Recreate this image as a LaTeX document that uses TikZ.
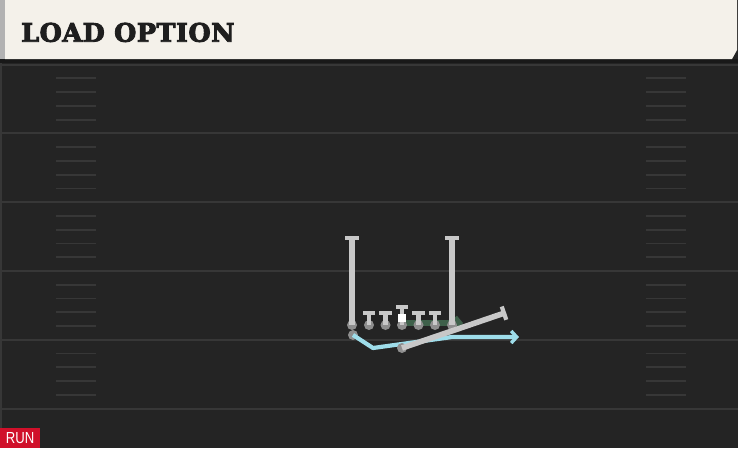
\documentclass[tikz,border=0pt]{standalone}
\usepackage{fontspec}
\usepackage{graphicx}
\usetikzlibrary{arrows.meta}
\newfontfamily\titlefont{DejaVu Serif Bold}[FakeBold=3.5,LetterSpace=2]
\newfontfamily\tagfont{Liberation Sans}
\definecolor{turf}{HTML}{242424}
\definecolor{turfline}{HTML}{373737}
\definecolor{cream}{HTML}{F4F1EA}
\definecolor{inkdark}{HTML}{1E1E1E}
\definecolor{playergray}{HTML}{8E8E8E}
\definecolor{routegray}{HTML}{C8C8C8}
\definecolor{pullgreen}{HTML}{3E604A}
\definecolor{runcyan}{HTML}{9EDDEA}
\definecolor{runred}{HTML}{D0102A}
\tikzstyle{player}=[circle,fill=playergray,minimum size=10pt,
    inner sep=0pt,outer sep=0pt]
\tikzstyle{ball}=[fill=white,minimum size=8pt,inner sep=0pt]
\tikzstyle{route}=[line width=5.4pt,draw=routegray,
    -{Bar[width=14pt,line width=4.2pt]}]
\tikzstyle{stem}=[line width=4.6pt,draw=routegray,
    -{Bar[width=12.5pt,line width=4pt]}]
\tikzstyle{pull}=[line width=6pt,draw=pullgreen,line cap=round,
    -{Straight Barb[length=5pt,width=12pt,line width=4pt]}]
\tikzstyle{track}=[line width=4.2pt,draw=runcyan,line join=round,
    -{Straight Barb[length=5.5pt,width=12pt,line width=3.4pt]}]
\tikzstyle{yardline}=[line width=2pt,draw=turfline]
\tikzstyle{hash}=[line width=1.8pt,draw=turfline]
\newcommand{\lineman}[3][310.7]{
    \node[player] at (#2,325) (#3) {};
    \coordinate (#3-top) at (#2,#1);
    \draw[stem] (#3.center) -- (#3-top);
}

\begin{document}
\begin{tikzpicture}[x=1pt,y=-1pt]
    \useasboundingbox (0,0) rectangle (738,448);
    \fill[turf] (0,0) rectangle (738,448);
    \fill[turfline] (0,59) rectangle (2,448);
    %
    \foreach \k in {0,...,5}{
        \draw[yardline] (2,64.5+68.8*\k) -- (738,64.5+68.8*\k);
    }
    \foreach \k in {0,...,4}{
        \foreach \j in {1,...,4}{
            \draw[hash] (56,64.5+68.8*\k+13.8*\j) -- (96,64.5+68.8*\k+13.8*\j);
            \draw[hash] (646,64.5+68.8*\k+13.8*\j) -- (686,64.5+68.8*\k+13.8*\j);
        }
    }
    %
    \fill[black!90] (0,59) rectangle (738,63);
    \fill[cream] (5,0) -- (737,0) -- (737,50) -- (732,59) -- (5,59) -- cycle;
    \fill[black!30] (0,0) rectangle (5,59);
    \node[anchor=base west,inner sep=0pt,text=inkdark,
        font=\titlefont\fontsize{25.5}{25.5}\selectfont] (title)
        at (21,41.7) {LOAD OPTION};
    %
    \coordinate (pullend) at (463,323);
    \draw[pull] (402,323) -- (pullend);
    %
    \node[player] at (352,325) (LWR) {};
    \node[player] at (452,325) (RWR) {};
    \coordinate (LWR-top) at (352,236);
    \coordinate (RWR-top) at (452,236);
    \draw[route] (LWR.center) -- (LWR-top);
    \draw[route] (RWR.center) -- (RWR-top);
    %
    \lineman{369}{LT}
    \lineman{385.5}{LG}
    \lineman[305]{402}{C}
    \lineman{418.5}{RG}
    \lineman{435}{RT}
    \node[ball] at (402,318) (snap) {};
    %
    \node[player] at (353,335) (HB) {};
    \coordinate (cut) at (373,348);
    \coordinate (lane) at (452,337);
    \coordinate (runend) at (519,337);
    \draw[track] (HB.center) -- (cut) -- (lane) -- (runend);
    %
    \node[player] at (402,348) (QB) {};
    \coordinate (keep) at (506,312.5);
    \draw[route,line width=5.6pt] (QB.center) -- (keep);
    %
    \node[anchor=south west,fill=runred,text=white,inner sep=0pt,
        minimum width=40pt,minimum height=20pt,
        font=\tagfont\fontsize{16}{16}\selectfont] (tag) at (0,448)
        {\scalebox{0.82}[1]{RUN}};
\end{tikzpicture}
\end{document}
